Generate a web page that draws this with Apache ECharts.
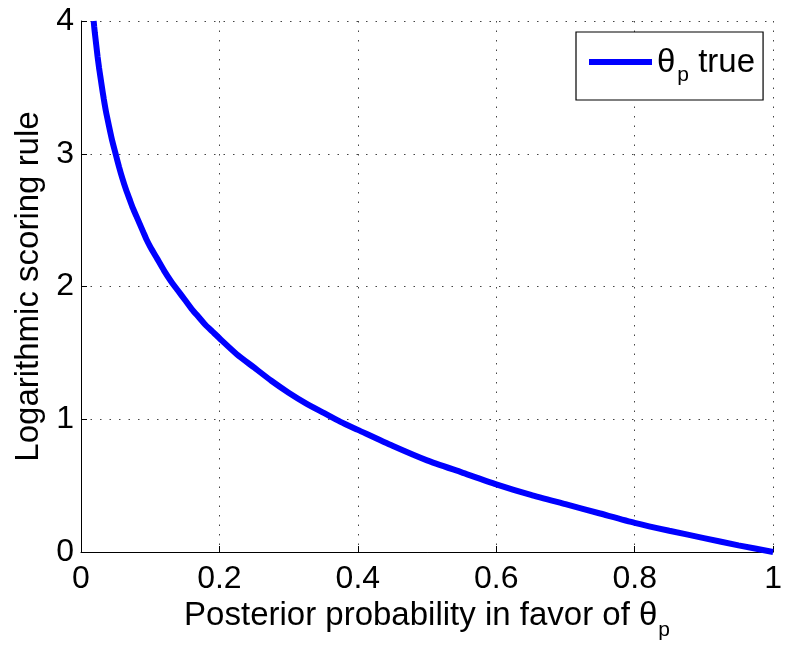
<!DOCTYPE html>
<html><head><meta charset="utf-8">
<script src="https://cdn.jsdelivr.net/npm/echarts@6/dist/echarts.min.js"></script>
<style>html,body{margin:0;padding:0;background:#fff}#c{width:785px;height:648px}</style>
</head><body><div id="c"></div>
<script>
const probabilities = [0.0183,0.019,0.020,0.022,0.024,0.026,0.028,0.030,0.033,0.036,0.040,0.045,0.050,0.055,0.060,0.065,0.070,0.075,0.080,0.085,0.090,0.095,0.100,0.11,0.12,0.13,0.14,0.15,0.16,0.17,0.18,0.19,0.20,0.225,0.25,0.275,0.30,0.325,0.35,0.375,0.40,0.45,0.50,0.55,0.60,0.65,0.70,0.75,0.80,0.85,0.90,0.95,1.00];
const scores = [4.00,3.96,3.91,3.82,3.73,3.65,3.58,3.51,3.41,3.32,3.22,3.10,3.00,2.90,2.81,2.73,2.66,2.59,2.53,2.47,2.41,2.35,2.30,2.21,2.12,2.04,1.97,1.90,1.83,1.77,1.71,1.66,1.61,1.49,1.39,1.29,1.20,1.12,1.05,0.98,0.92,0.80,0.69,0.60,0.51,0.43,0.36,0.29,0.22,0.16,0.105,0.05,0.00];
const xTicks = [0,0.2,0.4,0.6,0.8,1];
const yTicks = [0,1,2,3,4];
const seriesName = 'θp true';

const font = 'Liberation Sans, Arial, sans-serif';
const chart = echarts.init(document.getElementById('c'));
chart.setOption({
  animation:false,
  backgroundColor:'#fff',
  grid:{left:81,top:21,right:3,bottom:96,containLabel:false},
  legend:{
    left:576,top:32,
    padding:[14,8,14,13],
    borderColor:'#000',borderWidth:1.2,backgroundColor:'#fff',
    itemWidth:63,itemHeight:6,itemGap:7,
    icon:'rect',
    formatter:function(){return '{a|θ}{b|p}{a| true}';},
    textStyle:{rich:{
      a:{fontFamily:font,fontSize:33,lineHeight:32,color:'#000',verticalAlign:'top'},
      b:{fontFamily:font,fontSize:21,lineHeight:20,color:'#000',verticalAlign:'top',padding:[19,0,0,2]}
    }},
    data:[{name:seriesName,itemStyle:{color:'#0000ff'}}]
  },
  xAxis:{
    type:'value',min:0,max:1,interval:0.2,
    name:'{a|Posterior probability in favor of θ}{b|p}',
    nameLocation:'middle',nameGap:43,
    nameTextStyle:{rich:{
      a:{fontFamily:font,fontSize:33,lineHeight:33,color:'#000',verticalAlign:'top'},
      b:{fontFamily:font,fontSize:21,lineHeight:20,color:'#000',verticalAlign:'top',padding:[20,0,0,1]}
    }},
    axisLine:{show:true,onZero:false,lineStyle:{color:'#000',width:1}},
    axisTick:{show:true,inside:true,length:6,lineStyle:{color:'#000',width:1}},
    axisLabel:{fontFamily:font,fontSize:32,color:'#000',margin:11,
      formatter:function(v){return xTicks.indexOf(Math.round(v*10)/10)>=0?String(Math.round(v*10)/10):'';}},
    splitLine:{show:true,lineStyle:{color:'#444',width:1,type:[1.5,8]}}
  },
  yAxis:{
    type:'value',min:0,max:4,interval:1,
    name:'Logarithmic scoring rule',
    nameLocation:'middle',nameGap:36,
    nameTextStyle:{fontFamily:font,fontSize:33,color:'#000'},
    axisLine:{show:true,onZero:false,lineStyle:{color:'#000',width:1}},
    axisTick:{show:true,inside:true,length:6,lineStyle:{color:'#000',width:1}},
    axisLabel:{fontFamily:font,fontSize:32,color:'#000',margin:7,
      formatter:function(v){return yTicks.indexOf(v)>=0?String(v):'';}},
    splitLine:{show:true,lineStyle:{color:'#444',width:1,type:[1.5,8]}}
  },
  series:[{
    name:seriesName,type:'line',smooth:0.2,symbol:'none',
    data:probabilities.map((p,i)=>[p,scores[i]]),
    lineStyle:{color:'#0000ff',width:6},
    itemStyle:{color:'#0000ff'},
    clip:true
  }]
});
</script></body></html>
